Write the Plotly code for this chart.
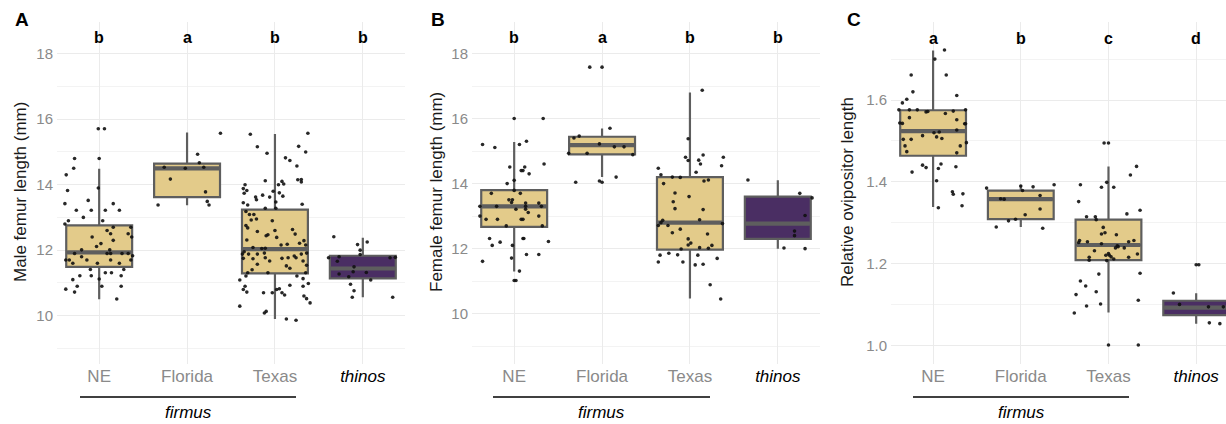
import plotly.graph_objects as go

# ---------------- data ----------------
groups = ["NE", "Florida", "Texas", "thinos"]
tick_labels = ["NE", "Florida", "Texas", "<span style='color:#000000'><i>thinos</i></span>"]

# Panel A: Male femur length (mm)
a_q1 = [11.49, 13.62, 11.29, 11.14]
a_med = [11.93, 14.50, 12.03, 11.44]
a_q3 = [12.76, 14.64, 13.24, 11.83]
a_lo = [10.50, 13.37, 9.90, 10.56]
a_hi = [14.49, 15.59, 15.55, 12.38]
a_letters = ["b", "a", "b", "b"]

a_ne_dx = [-0.01, 0.06, -0.28, 0.0, -0.29, -0.375, -0.01, -0.36, -0.125, -0.39, -0.26, -0.09, 0.07, 0.16, 0.23,
           -0.18, -0.35, 0.04, -0.39, 0.36, 0.16, 0.09, 0.13, 0.33, 0.37, -0.08, 0.16, 0.02, -0.03, -0.2, -0.28,
           0.09, 0.13, 0.26, 0.33, 0.12, 0.38, -0.2, -0.38, -0.34, -0.14, 0.13, 0.36, -0.3, -0.02, 0.23, -0.1,
           0.28, 0.07, 0.14, -0.22, -0.09, 0.25, 0.0, -0.3, -0.25, 0.03, 0.25, -0.38, -0.28, 0.2]
a_ne_y = [15.71, 15.71, 14.8, 14.8, 14.5, 14.3, 13.9, 13.82, 13.52, 13.42, 13.22, 13.22, 13.22, 13.42, 13.22,
          13.0, 12.9, 12.9, 12.8, 12.7, 12.7, 12.6, 12.5, 12.5, 12.4, 12.4, 12.3, 12.2, 12.11, 12.01, 11.9,
          11.9, 11.9, 11.9, 11.9, 12.01, 11.83, 11.8, 11.7, 11.7, 11.7, 11.7, 11.7, 11.6, 11.6, 11.6, 11.41,
          11.41, 11.31, 11.31, 11.22, 11.22, 11.22, 11.12, 11.1, 10.9, 10.9, 10.9, 10.81, 10.72, 10.51]
a_fl_dx = [-0.26, -0.19, -0.02, 0.12, 0.14, 0.19, 0.21, 0.38, -0.33, 0.23, 0.25]
a_fl_y = [14.53, 14.17, 14.5, 14.93, 14.67, 14.53, 13.78, 15.57, 13.38, 13.49, 13.38]
a_tx_dx = [-0.28, 0.375, -0.2, 0.27, -0.09, 0.35, 0.12, 0.17, 0.25, -0.11, 0.26, 0.3, 0.3, 0.08, 0.1, 0.04,
           -0.34, -0.36, -0.32, -0.35, -0.02, -0.14, -0.22, -0.21, -0.06, 0.05, 0.09, -0.36, -0.31, 0.01, 0.31,
           -0.11, 0.01, -0.33, -0.29, -0.24, -0.21, -0.27, -0.03, -0.33, -0.31, -0.2, 0.0, 0.2, -0.08, -0.1,
           0.02, 0.23, -0.32, 0.33, 0.28, 0.14, 0.07, 0.35, -0.25, -0.15, -0.11, -0.35, -0.37, -0.3, -0.2,
           -0.12, 0.22, 0.24, 0.3, 0.36, -0.36, -0.25, -0.11, -0.06, 0.08, 0.15, 0.32, -0.2, 0.13, 0.17, -0.26,
           -0.31, -0.08, 0.35, 0.36, -0.33, 0.25, -0.4, 0.32, 0.17, 0.38, -0.34, -0.36, -0.32, -0.13, -0.03,
           0.02, 0.05, 0.08, 0.11, 0.32, 0.33, 0.36, 0.4, -0.4, -0.1, -0.12, 0.13, 0.24]
a_tx_y = [15.54, 15.57, 15.16, 15.17, 14.96, 15.0, 14.82, 14.74, 14.57, 14.12, 14.15, 14.16, 14.08, 14.1, 14.02,
          14.0, 14.0, 13.88, 13.82, 13.74, 13.8, 13.68, 13.62, 13.54, 13.62, 13.75, 13.65, 13.45, 13.38, 13.47,
          13.4, 13.28, 13.28, 13.18, 13.09, 13.09, 12.95, 12.92, 12.9, 12.75, 12.68, 12.57, 12.6, 12.63, 12.47,
          12.44, 12.39, 12.49, 12.31, 12.29, 12.21, 12.18, 12.16, 12.16, 12.08, 12.05, 12.06, 11.95, 11.88,
          11.88, 11.88, 11.91, 11.82, 11.77, 11.88, 11.91, 11.75, 11.74, 11.77, 11.67, 11.75, 11.77, 11.67,
          11.57, 11.52, 11.45, 11.4, 11.31, 11.31, 11.31, 11.54, 11.21, 11.21, 11.09, 11.13, 10.93, 10.98,
          10.9, 10.8, 10.72, 10.7, 10.7, 10.8, 10.82, 10.7, 10.63, 10.9, 10.6, 10.52, 10.39, 10.29, 10.13,
          10.08, 9.9, 9.86]
a_th_dx = [-0.33, -0.06, 0.05, -0.03, -0.03, -0.39, -0.27, -0.29, 0.31, -0.1, -0.11, 0.04, -0.27, -0.16, 0.09,
           -0.14, -0.1, -0.12, 0.34, 0.37]
a_th_y = [12.41, 12.17, 12.25, 12.0, 11.87, 11.77, 11.8, 11.66, 11.77, 11.49, 11.34, 11.32, 11.27, 11.19, 11.09,
          10.96, 10.76, 10.56, 10.56, 11.78]

# Panel B: Female femur length (mm)
b_q1 = [12.67, 14.90, 11.97, 12.30]
b_med = [13.30, 15.18, 12.80, 12.77]
b_q3 = [13.80, 15.44, 14.20, 13.60]
b_lo = [11.30, 14.20, 10.47, 12.00]
b_hi = [15.28, 15.69, 16.80, 14.10]
b_letters = ["b", "a", "b", "b"]

b_ne_dx = [0.0, 0.33, -0.36, -0.22, 0.06, 0.14, 0.34, -0.05, 0.12, 0.08, 0.1, 0.17, -0.08, 0.0, 0.0, -0.26,
           0.07, -0.06, -0.02, -0.03, -0.39, -0.2, 0.13, 0.28, 0.13, 0.31, 0.02, 0.13, 0.16, -0.39, 0.28, -0.32,
           -0.19, 0.08, 0.1, -0.09, 0.32, -0.28, 0.1, 0.11, -0.16, 0.39, -0.25, -0.02, -0.03, 0.14, 0.28, -0.36,
           0.06, 0.0, 0.02]
b_ne_y = [16.0, 16.0, 15.2, 15.11, 15.2, 15.3, 14.6, 14.51, 14.51, 14.4, 14.4, 14.3, 14.0, 14.1, 13.79, 13.7,
          13.7, 13.5, 13.5, 13.42, 13.3, 13.3, 13.4, 13.4, 13.3, 13.3, 13.21, 13.21, 13.11, 13.0, 13.0, 12.9,
          12.9, 12.9, 12.9, 12.7, 12.7, 12.31, 12.31, 12.31, 12.2, 12.22, 12.1, 12.1, 11.71, 11.82, 11.82, 11.61,
          11.31, 11.02, 11.02]
b_fl_dx = [-0.14, 0.0, 0.09, -0.26, -0.32, -0.03, 0.14, 0.25, -0.17, -0.38, 0.35, 0.16, -0.3, -0.03, 0.0]
b_fl_y = [17.58, 17.58, 15.7, 15.46, 15.4, 15.22, 15.13, 15.13, 14.93, 14.93, 14.89, 14.2, 14.04, 14.08, 14.04]
b_tx_dx = [0.14, -0.02, -0.05, 0.15, 0.38, 0.1, -0.02, 0.12, 0.36, -0.36, -0.33, 0.07, -0.2, -0.11, 0.16, 0.21,
           -0.3, -0.17, -0.01, -0.19, -0.17, 0.15, 0.11, -0.31, -0.33, -0.36, -0.25, 0.37, -0.11, -0.2, 0.2,
           -0.02, 0.01, -0.02, 0.25, 0.11, 0.21, -0.1, -0.34, -0.24, -0.14, 0.09, 0.31, -0.36, -0.08, 0.06, 0.15,
           0.23, 0.35]
b_tx_y = [16.87, 15.38, 14.81, 14.88, 14.81, 14.72, 14.71, 14.6, 14.55, 14.47, 14.27, 14.35, 14.2, 14.19, 14.08,
          14.11, 14.0, 13.71, 13.6, 13.44, 13.23, 13.2, 12.89, 12.87, 12.8, 12.71, 12.71, 12.77, 12.6, 12.49,
          12.45, 12.3, 12.17, 12.11, 12.1, 12.03, 12.01, 11.99, 11.8, 11.86, 11.81, 11.8, 11.7, 11.59, 11.59,
          11.5, 11.52, 10.89, 10.45]
b_th_dx = [-0.34, 0.25, 0.39, 0.31, 0.19, 0.19, 0.07, 0.31]
b_th_y = [14.11, 13.7, 13.56, 13.02, 12.54, 12.4, 12.02, 12.0]

# Panel C: Relative ovipositor length
c_q1 = [1.464, 1.309, 1.209, 1.075]
c_med = [1.524, 1.358, 1.246, 1.093]
c_q3 = [1.575, 1.379, 1.308, 1.110]
c_lo = [1.339, 1.290, 1.081, 1.054]
c_hi = [1.721, 1.392, 1.438, 1.128]
c_letters = ["a", "b", "c", "d"]

c_ne_dx = [0.13, 0.02, -0.25, 0.15, -0.23, 0.27, -0.3, -0.35, -0.39, -0.27, -0.18, -0.08, -0.06, 0.23, 0.37,
           0.14, -0.27, 0.27, -0.38, -0.35, 0.36, 0.37, 0.27, 0.01, 0.07, -0.12, 0.04, 0.1, -0.34, -0.25, -0.32,
           0.31, -0.3, 0.38, 0.27, -0.12, -0.08, 0.09, 0.06, 0.26, -0.24, 0.04, 0.22, 0.23, 0.34, 0.33, 0.06]
c_ne_y = [1.722, 1.70, 1.661, 1.661, 1.62, 1.611, 1.602, 1.593, 1.576, 1.576, 1.576, 1.571, 1.572, 1.573, 1.576,
          1.567, 1.557, 1.552, 1.544, 1.543, 1.542, 1.542, 1.527, 1.52, 1.522, 1.513, 1.51, 1.506, 1.504, 1.504,
          1.488, 1.488, 1.474, 1.496, 1.471, 1.441, 1.435, 1.444, 1.433, 1.437, 1.424, 1.403, 1.376, 1.37,
          1.371, 1.342, 1.337]
c_fl_dx = [-0.39, 0.0, 0.02, 0.14, 0.38, -0.23, -0.19, 0.22, 0.22, 0.05, -0.06, -0.14, -0.28, 0.25]
c_fl_y = [1.385, 1.39, 1.379, 1.388, 1.393, 1.359, 1.358, 1.367, 1.334, 1.32, 1.309, 1.305, 1.29, 1.287]
c_tx_dx = [-0.05, 0.0, 0.32, 0.25, -0.02, -0.32, -0.08, 0.06, -0.34, 0.36, 0.21, -0.25, -0.15, -0.14, -0.06,
           -0.08, -0.04, 0.09, -0.33, -0.24, 0.23, 0.29, -0.08, 0.1, 0.11, 0.08, 0.18, -0.34, -0.16, 0.0, 0.01,
           -0.03, 0.03, -0.22, -0.22, -0.02, 0.06, 0.23, 0.33, -0.11, 0.36, -0.32, -0.26, -0.37, -0.14, 0.34,
           -0.09, -0.25, -0.39, 0.0, 0.34]
c_tx_y = [1.495, 1.495, 1.438, 1.417, 1.399, 1.393, 1.387, 1.387, 1.352, 1.331, 1.322, 1.315, 1.315, 1.308,
          1.289, 1.273, 1.276, 1.271, 1.257, 1.254, 1.254, 1.257, 1.249, 1.244, 1.242, 1.239, 1.239, 1.252,
          1.232, 1.225, 1.221, 1.221, 1.217, 1.216, 1.209, 1.208, 1.212, 1.216, 1.224, 1.175, 1.177, 1.158,
          1.146, 1.125, 1.132, 1.111, 1.102, 1.097, 1.08, 1.002, 1.002]
c_th_dx = [0.0, 0.03, -0.26, -0.19, 0.14, 0.31, 0.15, 0.27]
c_th_y = [1.198, 1.198, 1.129, 1.101, 1.095, 1.095, 1.056, 1.054]

# ---------------- style ----------------
FONT = "Liberation Sans, Arial, Helvetica, sans-serif"
TAN = "#E3CB8A"
PURPLE = "#4A2E63"
fills = [TAN, TAN, TAN, PURPLE]
EDGE = "#5E5E5E"
W, H = 1226, 424

panels = [
    dict(q1=a_q1, med=a_med, q3=a_q3, lo=a_lo, hi=a_hi, letters=a_letters, lety=18.5,
         pts=[(a_ne_dx, a_ne_y), (a_fl_dx, a_fl_y), (a_tx_dx, a_tx_y), (a_th_dx, a_th_y)],
         title="Male femur length (mm)", tag="A"),
    dict(q1=b_q1, med=b_med, q3=b_q3, lo=b_lo, hi=b_hi, letters=b_letters, lety=18.5,
         pts=[(b_ne_dx, b_ne_y), (b_fl_dx, b_fl_y), (b_tx_dx, b_tx_y), (b_th_dx, b_th_y)],
         title="Female femur length (mm)", tag="B"),
    dict(q1=c_q1, med=c_med, q3=c_q3, lo=c_lo, hi=c_hi, letters=c_letters, lety=1.75,
         pts=[(c_ne_dx, c_ne_y), (c_fl_dx, c_fl_y), (c_tx_dx, c_tx_y), (c_th_dx, c_th_y)],
         title="Relative ovipositor length", tag="C"),
]

x_domains = [(57 / W, 405 / W), (472 / W, 820 / W), (891 / W, 1.0)]
x_ranges = [[0.52, 4.48], [0.52, 4.48], [0.52, 4.34]]
y_ranges = [[8.53, 18.98], [8.46, 18.98], [0.956, 1.7915]]
y_dtick = [2, 2, 0.2]
y_minor = [1, 1, 0.1]
y_fmt = ["d", "d", ".1f"]
y_dom = (1 - 363.8 / H, 1 - 21.6 / H)
title_x = [20, 436, 847]
tag_x = [22, 438, 854]
firmus_line = [(80, 296), (493, 710), (913, 1129)]

fig = go.Figure()
annotations = []
shapes = []
BW = 0.75

for p_i, p in enumerate(panels):
    xa = "x" if p_i == 0 else f"x{p_i + 1}"
    ya = "y" if p_i == 0 else f"y{p_i + 1}"
    for g in range(4):
        pos = g + 1
        fig.add_trace(go.Box(
            x=[pos], q1=[p["q1"][g]], median=[p["med"][g]], q3=[p["q3"][g]],
            lowerfence=[p["lo"][g]], upperfence=[p["hi"][g]],
            width=BW, whiskerwidth=0, fillcolor=fills[g],
            line=dict(color=EDGE, width=2.2), boxpoints=False,
            hoverinfo="skip", showlegend=False, xaxis=xa, yaxis=ya))
        # thicker median bar
        fig.add_trace(go.Scatter(
            x=[pos - BW / 2 + 0.01, pos + BW / 2 - 0.01], y=[p["med"][g], p["med"][g]],
            mode="lines", line=dict(color=EDGE, width=4.2),
            hoverinfo="skip", showlegend=False, xaxis=xa, yaxis=ya))
    for g in range(4):
        dx, yv = p["pts"][g]
        fig.add_trace(go.Scatter(
            x=[g + 1 + d for d in dx], y=yv, mode="markers",
            marker=dict(color="#111111", size=3.6, opacity=0.9, line=dict(width=0)),
            hoverinfo="skip", showlegend=False, xaxis=xa, yaxis=ya))
    # significance letters
    for g in range(4):
        annotations.append(dict(x=g + 1, y=p["lety"], xref=xa, yref=ya, text=f"<b>{p['letters'][g]}</b>",
                                showarrow=False, font=dict(family=FONT, size=16, color="#000000"),
                                xanchor="center", yanchor="middle"))
    # y-axis title
    annotations.append(dict(x=title_x[p_i] / W, y=1 - 192 / H, xref="paper", yref="paper",
                            text=p["title"], textangle=-90, showarrow=False,
                            font=dict(family=FONT, size=17, color="#1A1A1A"),
                            xanchor="center", yanchor="middle"))
    # panel tag
    annotations.append(dict(x=tag_x[p_i] / W, y=1 - 20 / H, xref="paper", yref="paper",
                            text=f"<b>{p['tag']}</b>", showarrow=False,
                            font=dict(family=FONT, size=19, color="#000000"),
                            xanchor="center", yanchor="middle"))
    # firmus bracket
    x0, x1 = firmus_line[p_i]
    shapes.append(dict(type="line", xref="paper", yref="paper", x0=x0 / W, x1=x1 / W,
                       y0=1 - 397 / H, y1=1 - 397 / H, line=dict(color="#000000", width=1.5)))
    annotations.append(dict(x=(x0 + x1) / 2 / W, y=1 - 412 / H, xref="paper", yref="paper",
                            text="<i>firmus</i>", showarrow=False,
                            font=dict(family=FONT, size=17, color="#000000"),
                            xanchor="center", yanchor="middle"))

layout = dict(
    width=W, height=H, margin=dict(l=0, r=0, t=0, b=0),
    paper_bgcolor="white", plot_bgcolor="white",
    font=dict(family=FONT), annotations=annotations, shapes=shapes, boxmode="overlay",
)
for p_i in range(3):
    xk = "xaxis" if p_i == 0 else f"xaxis{p_i + 1}"
    yk = "yaxis" if p_i == 0 else f"yaxis{p_i + 1}"
    ya = "y" if p_i == 0 else f"y{p_i + 1}"
    xa = "x" if p_i == 0 else f"x{p_i + 1}"
    layout[xk] = dict(domain=list(x_domains[p_i]), range=x_ranges[p_i], anchor=ya,
                      tickmode="array", tickvals=[1, 2, 3, 4], ticktext=tick_labels,
                      showgrid=True, gridcolor="#EBEBEB", gridwidth=1.4, zeroline=False,
                      showline=False, ticks="", ticklen=0,
                      tickfont=dict(family=FONT, size=17, color="#8A8A8A"),
                      ticklabelstandoff=0)
    layout[yk] = dict(domain=list(y_dom), range=y_ranges[p_i], anchor=xa,
                      dtick=y_dtick[p_i], tick0=0, tickformat=y_fmt[p_i],
                      showgrid=True, gridcolor="#EBEBEB", gridwidth=1.4, zeroline=False,
                      showline=False, ticks="", tickfont=dict(family=FONT, size=15, color="#8A8A8A"),
                      minor=dict(dtick=y_minor[p_i], tick0=0, showgrid=True, gridcolor="#F3F3F3", gridwidth=1),
                      ticklabelstandoff=3)

fig.update_layout(**layout)
fig.write_html("out.html", config={"displayModeBar": False},
               post_script="document.body.style.margin='0px';document.body.style.overflow='hidden';")
